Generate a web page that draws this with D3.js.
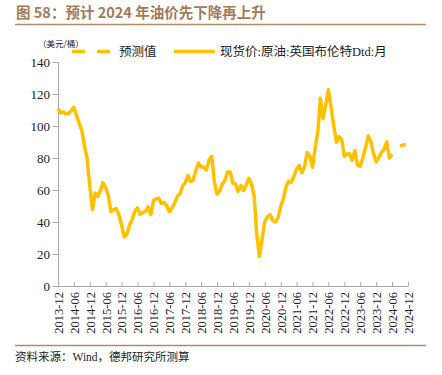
<!DOCTYPE html>
<html>
<head>
<meta charset="utf-8">
<script src="https://cdn.jsdelivr.net/npm/d3@7"></script>
<style>
  body { margin: 0; background: #fff; }
  svg { display: block; }
</style>
</head>
<body>
<div id="chart"></div>
<script>
// Brent Dtd monthly, 2013-12 .. 2024-06 (USD/bbl)
const startMonth = "2013-12";
const spotPrices = [
  110.8,
  108.1, 108.9, 107.5, 107.8, 109.5, 111.8, 106.8, 101.6, 97.1, 87.4, 79.4, 62.3,
  47.8, 58.1, 55.9, 59.5, 64.6, 61.5, 56.6, 46.5, 47.6, 48.4, 44.3, 38.0,
  30.7, 32.2, 38.2, 41.6, 46.7, 48.8, 44.7, 46.0, 46.6, 49.5, 44.7, 53.3,
  54.6, 54.9, 51.6, 52.3, 50.3, 46.4, 48.5, 51.7, 56.2, 57.5, 62.7, 64.4,
  69.1, 65.3, 66.0, 72.1, 76.9, 74.4, 74.3, 72.5, 78.9, 81.0, 64.8, 57.4,
  59.4, 64.0, 66.1, 71.2, 71.3, 64.2, 63.9, 59.0, 62.8, 59.7, 63.2, 67.3,
  63.7, 55.7, 32.0, 18.4, 29.4, 40.3, 43.2, 44.7, 40.9, 40.2, 42.7, 49.9,
  54.8, 62.3, 65.4, 64.8, 68.5, 73.2, 75.2, 70.8, 74.5, 83.5, 81.1, 74.2,
  86.5, 97.1, 117.3, 104.6, 113.3, 122.7, 111.9, 100.5, 89.8, 93.3, 91.4, 80.9,
  82.5, 82.6, 78.4, 84.6, 75.5, 74.8, 80.1, 86.2, 93.7, 90.6, 82.9, 77.6,
  80.1, 83.5, 85.4, 90.1, 80.0, 82.4
];
// forecast, 2024-09 .. 2024-12
const forecastStart = "2024-09";
const forecastPrices = [87.5, 88.0, 88.5, 89.0];

const yTicks = [0, 20, 40, 60, 80, 100, 120, 140];
const titleText = "图 58：预计 2024 年油价先下降再上升";
const unitText = "（美元/桶）";
const legendNames = ["预测值", "现货价:原油:英国布伦特Dtd:月"];
const sourceText = "资料来源：Wind，德邦研究所测算";

const width = 442, height = 375;
const margin = { top: 62, right: 34, bottom: 89, left: 58 };
const lineColor = "#FFC000";
const brown = "#a47a58";
const serif = "'Liberation Serif', 'Noto Sans CJK SC', serif";
const cjk = "'Noto Sans CJK SC', sans-serif";

const parseMonth = d3.timeParse("%Y-%m");
const spot = spotPrices.map((v, i) => ({ date: d3.timeMonth.offset(parseMonth(startMonth), i), value: v }));
const forecast = forecastPrices.map((v, i) => ({ date: d3.timeMonth.offset(parseMonth(forecastStart), i), value: v }));

const svg = d3.select("#chart").append("svg")
  .attr("width", width)
  .attr("height", height);

const xScale = d3.scaleTime()
  .domain([parseMonth("2013-12"), parseMonth("2024-12")])
  .range([margin.left, width - margin.right]);

const yScale = d3.scaleLinear()
  .domain([0, 140])
  .range([height - margin.bottom, margin.top]);

// title + rules
svg.append("text")
  .attr("x", 16).attr("y", 18)
  .style("font-family", cjk)
  .style("font-size", "14.5px").style("font-weight", "bold")
  .attr("fill", brown)
  .text(titleText);
svg.append("line")
  .attr("x1", 15).attr("x2", 426).attr("y1", 24.5).attr("y2", 24.5)
  .attr("stroke", "#b38a67").attr("stroke-width", 1.5);
svg.append("line")
  .attr("x1", 15).attr("x2", 426).attr("y1", 345.5).attr("y2", 345.5)
  .attr("stroke", "#b38a67").attr("stroke-width", 1.5);

svg.append("text")
  .attr("x", 15).attr("y", 361)
  .style("font-family", serif)
  .style("font-size", "11.5px").attr("fill", "#222")
  .text(sourceText);

// unit
svg.append("text")
  .attr("x", 38).attr("y", 47)
  .style("font-family", cjk)
  .style("font-size", "8.5px").attr("fill", "#222")
  .text(unitText);

// y axis
const yAxis = svg.append("g")
  .attr("transform", `translate(${margin.left},0)`)
  .call(d3.axisLeft(yScale).tickValues(yTicks).tickSize(5).tickPadding(3));
yAxis.select(".domain").attr("stroke", "#aaa");
yAxis.selectAll(".tick line").attr("stroke", "#aaa");
yAxis.selectAll("text")
  .style("font-family", serif)
  .style("font-size", "13px").attr("fill", "#222");

// x axis
const xTickDates = d3.range(0, 23).map(i => d3.timeMonth.offset(parseMonth("2013-12"), i * 6));
const xAxis = svg.append("g")
  .attr("transform", `translate(0,${height - margin.bottom})`)
  .call(d3.axisBottom(xScale).tickValues(xTickDates).tickFormat(d3.timeFormat("%Y-%m")).tickSize(-4).tickSizeOuter(0));
xAxis.select(".domain").attr("stroke", "#aaa");
xAxis.selectAll(".tick line").attr("stroke", "#aaa");
xAxis.selectAll("text")
  .style("font-family", serif)
  .style("font-size", "12.5px").attr("fill", "#222")
  .attr("transform", "rotate(-90)")
  .attr("text-anchor", "end")
  .attr("x", -6).attr("y", 0).attr("dy", "0.35em");

// lines
const line = d3.line()
  .x(d => xScale(d.date))
  .y(d => yScale(d.value));

svg.append("path")
  .datum(spot)
  .attr("fill", "none")
  .attr("stroke", lineColor)
  .attr("stroke-width", 3.5)
  .attr("stroke-linejoin", "round")
  .attr("d", line);

svg.append("path")
  .datum(forecast)
  .attr("fill", "none")
  .attr("stroke", lineColor)
  .attr("stroke-width", 3.5)
  .attr("stroke-dasharray", "6,5")
  .attr("d", line);

// legend
const legend = svg.append("g");
legend.append("line")
  .attr("x1", 72).attr("x2", 110).attr("y1", 51.5).attr("y2", 51.5)
  .attr("stroke", lineColor).attr("stroke-width", 3.5)
  .attr("stroke-dasharray", "13,12");
legend.append("text")
  .attr("x", 119).attr("y", 56)
  .style("font-family", cjk)
  .style("font-size", "12.5px").attr("fill", "#222")
  .text(legendNames[0]);
legend.append("line")
  .attr("x1", 174).attr("x2", 215).attr("y1", 51.5).attr("y2", 51.5)
  .attr("stroke", lineColor).attr("stroke-width", 3.5);
legend.append("text")
  .attr("x", 220).attr("y", 56)
  .style("font-family", serif)
  .style("font-size", "12.5px").attr("fill", "#222")
  .text(legendNames[1]);
</script>
</body>
</html>
